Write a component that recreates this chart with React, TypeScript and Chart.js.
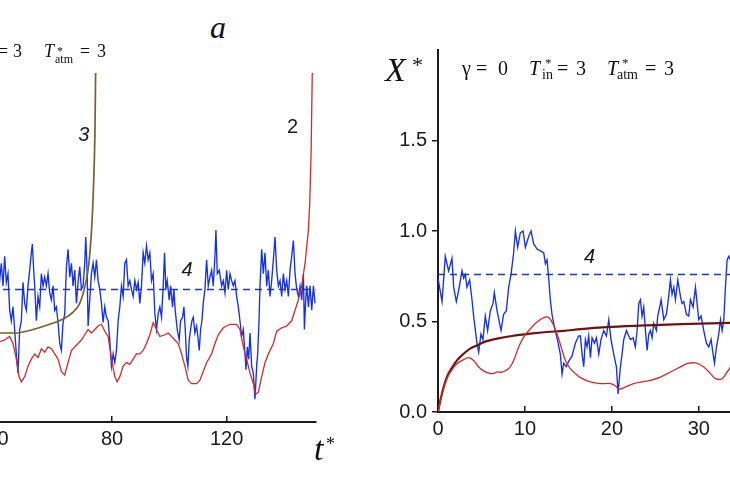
import React, { useEffect, useRef } from "react";
import { Chart, registerables } from "chart.js";

Chart.register(...registerables);

// ---------- DATA (t*, X*) ----------
// Left panel (a): curve 4 (stochastic), curve 2 (red), curve 3 (olive), dashed level
const leftBlue: number[][] = [
  [40.2, 0.70], [40.73, 0.81], [41.31, 0.91], [41.9, 0.78], [42.48, 0.95], [43.06, 0.80], [43.64, 0.85],
  [44.23, 0.64], [44.81, 0.58], [45.39, 0.66], [45.97, 0.53], [46.56, 0.39], [47.14, 0.28], [47.72, 0.53],
  [48.31, 0.58], [48.89, 0.80], [49.47, 0.68], [50.05, 0.64], [50.64, 0.78], [51.22, 0.87], [51.8, 0.97],
  [52.15, 1.02], [52.62, 0.87], [52.97, 0.78], [53.55, 0.58], [54.13, 0.72], [54.72, 0.66], [55.3, 0.85],
  [55.88, 0.78], [56.46, 0.83], [57.05, 0.78], [57.63, 0.85], [58.21, 0.74], [58.8, 0.70], [59.38, 0.78],
  [59.96, 0.64], [60.54, 0.66], [61.13, 0.57], [61.71, 0.45], [62.29, 0.41], [62.87, 0.57], [63.46, 0.62],
  [64.04, 0.89], [64.62, 0.99], [65.21, 0.83], [65.79, 0.91], [66.37, 0.78], [66.95, 0.87], [67.54, 0.68],
  [68.12, 0.80], [68.7, 0.89], [69.28, 0.76], [69.87, 0.78], [70.45, 0.91], [70.8, 1.06], [71.27, 0.87],
  [71.62, 0.55], [72.2, 0.70], [72.78, 0.85], [73.36, 0.91], [73.95, 0.83], [74.53, 0.93], [75.11, 0.81],
  [75.7, 0.76], [76.28, 0.68], [76.86, 0.57], [77.44, 0.66], [78.03, 0.60], [78.61, 0.58], [79.19, 0.47],
  [79.77, 0.32], [80.36, 0.39], [80.94, 0.34], [81.52, 0.41], [82.11, 0.58], [82.69, 0.66], [83.27, 0.78],
  [83.85, 0.72], [84.44, 0.91], [85.02, 0.93], [85.6, 0.78], [86.18, 0.81], [86.77, 0.76], [87.35, 0.72],
  [87.93, 0.81], [88.52, 0.76], [89.1, 0.80], [89.68, 0.68], [90.26, 0.78], [90.85, 0.97], [91.43, 0.91],
  [92.01, 1.01], [92.59, 0.93], [93.18, 0.97], [93.76, 0.81], [94.34, 0.85], [94.93, 0.62], [95.51, 0.53],
  [96.09, 0.62], [96.68, 0.66], [97.26, 0.60], [97.85, 0.78], [98.31, 0.97], [98.78, 0.76], [99.24, 0.81],
  [99.94, 0.70], [100.41, 0.78], [101.11, 0.66], [101.58, 0.76], [102.04, 0.64], [102.74, 0.53], [103.44, 0.47],
  [103.91, 0.58], [104.61, 0.60], [105.07, 0.66], [105.54, 0.53], [106.0, 0.37], [106.47, 0.32], [106.94, 0.47],
  [107.4, 0.53], [107.87, 0.58], [108.34, 0.60], [108.92, 0.51], [109.5, 0.55], [110.08, 0.47], [110.43, 0.41],
  [110.9, 0.53], [111.37, 0.58], [111.83, 0.68], [112.41, 0.76], [113.0, 0.93], [113.58, 0.78], [114.16, 0.83],
  [114.75, 0.87], [115.33, 0.78], [115.91, 0.95], [116.26, 1.10], [116.73, 0.85], [117.43, 0.87], [118.24, 0.78],
  [118.82, 0.81], [119.41, 0.74], [119.99, 0.87], [120.57, 0.76], [121.16, 0.85], [121.74, 0.81], [122.32, 0.78],
  [122.9, 0.81], [123.49, 0.72], [124.07, 0.66], [124.65, 0.58], [125.23, 0.49], [125.82, 0.53], [126.4, 0.39],
  [126.75, 0.30], [127.22, 0.43], [127.68, 0.36], [128.15, 0.51], [128.73, 0.32], [129.31, 0.28], [129.9, 0.13],
  [130.48, 0.32], [130.83, 0.39], [131.3, 0.58], [131.65, 0.78], [132.23, 0.99], [132.81, 0.85], [133.39, 0.97],
  [133.98, 0.78], [134.56, 0.87], [135.14, 0.72], [135.72, 0.81], [136.31, 0.93], [136.89, 1.06], [137.47, 0.87],
  [138.06, 0.78], [138.64, 0.81], [139.22, 0.72], [139.8, 0.85], [140.39, 0.76], [140.97, 0.81], [141.55, 0.72],
  [142.13, 0.87], [142.72, 0.95], [143.3, 1.04], [143.88, 0.85], [144.47, 0.76], [145.05, 0.72], [145.63, 0.78],
  [146.21, 0.70], [146.8, 0.85], [147.15, 0.53], [147.61, 0.70], [147.96, 0.78], [148.55, 0.66], [149.13, 0.78],
  [149.71, 0.64], [150.29, 0.78], [150.87, 0.68],
];

const leftRed: number[][] = [
  [39.5, 0.45], [40.73, 0.46], [42.48, 0.47], [44.23, 0.49], [45.39, 0.45], [46.56, 0.36], [47.49, 0.26],
  [48.31, 0.23], [49.47, 0.26], [50.64, 0.32], [51.8, 0.36], [52.97, 0.39], [54.13, 0.37], [55.3, 0.42],
  [56.46, 0.40], [57.63, 0.43], [58.8, 0.42], [59.96, 0.39], [61.13, 0.36], [62.29, 0.29], [63.46, 0.27],
  [64.62, 0.34], [65.79, 0.41], [66.95, 0.43], [68.12, 0.45], [69.28, 0.47], [70.45, 0.50], [71.62, 0.53],
  [72.78, 0.51], [73.95, 0.53], [75.11, 0.55], [76.28, 0.56], [77.44, 0.52], [78.61, 0.49], [79.77, 0.36],
  [80.94, 0.26], [81.76, 0.23], [82.69, 0.26], [83.85, 0.32], [85.02, 0.34], [86.18, 0.33], [87.35, 0.36],
  [88.52, 0.39], [89.68, 0.39], [90.85, 0.41], [92.01, 0.45], [93.18, 0.50], [94.34, 0.57], [95.51, 0.53],
  [96.67, 0.49], [98.43, 0.50], [99.59, 0.51], [101.34, 0.48], [103.09, 0.45], [104.26, 0.39], [105.42, 0.32],
  [106.59, 0.24], [107.75, 0.22], [109.5, 0.22], [110.67, 0.24], [111.83, 0.29], [113.0, 0.34], [114.75, 0.39],
  [115.91, 0.45], [117.08, 0.50], [118.82, 0.54], [121.16, 0.56], [123.49, 0.56], [124.65, 0.53], [125.82, 0.43],
  [126.98, 0.36], [128.15, 0.28], [129.31, 0.22], [130.13, 0.16], [131.06, 0.17], [132.23, 0.26], [133.39, 0.34],
  [134.56, 0.39], [136.31, 0.45], [137.47, 0.52], [139.22, 0.54], [140.97, 0.55], [142.72, 0.58], [143.88, 0.64],
  [145.05, 0.70], [146.21, 0.78], [147.38, 0.91], [148.54, 1.10], [149.0, 1.25], [149.5, 1.55], [149.9, 2.0],
  [150.1, 2.2],
];

const leftOlive: number[][] = [
  [38, 0.5], [40.73, 0.51], [46.6, 0.51], [52.4, 0.53], [58.2, 0.56], [62.9, 0.59], [66.4, 0.63], [68.7, 0.68],
  [70.4, 0.77], [71.6, 0.87], [72.4, 1.0], [73.0, 1.15], [73.5, 1.35], [74.0, 1.65], [74.25, 2.0], [74.4, 2.2],
];

const leftLevelT = [0, 151];
const leftLevelX = [0.76, 0.76];

// Right panel: curve 4 (stochastic), red, dark brown, dashed level
const rightBlue: number[][] = [
  [0.0, 0.74], [0.46, 0.61], [0.84, 0.86], [1.22, 0.78], [1.61, 0.85], [1.8, 0.69], [2.11, 0.61], [2.37, 0.67],
  [2.76, 0.78], [2.95, 0.74], [3.14, 0.76], [3.33, 0.69], [3.64, 0.73], [3.91, 0.62], [4.1, 0.53], [4.48, 0.38],
  [4.68, 0.33], [4.94, 0.43], [5.17, 0.40], [5.44, 0.53], [5.71, 0.45], [6.02, 0.56], [6.33, 0.60], [6.48, 0.66],
  [6.79, 0.56], [7.25, 0.45], [7.55, 0.54], [7.86, 0.56], [8.13, 0.69], [8.4, 0.76], [8.7, 0.88], [8.9, 1.0],
  [9.16, 0.91], [9.47, 0.99], [9.78, 1.0], [10.05, 0.91], [10.43, 0.97], [10.7, 1.0], [11.0, 0.93], [11.39, 0.90],
  [11.77, 0.89], [12.16, 0.88], [12.35, 0.82], [12.54, 0.84], [12.73, 0.74], [12.92, 0.62], [13.11, 0.54],
  [13.38, 0.47], [13.69, 0.41], [14.07, 0.32], [14.27, 0.21], [14.46, 0.27], [14.76, 0.25], [15.03, 0.28],
  [15.42, 0.31], [15.8, 0.38], [16.18, 0.42], [16.38, 0.42], [16.57, 0.32], [16.76, 0.25], [16.95, 0.40],
  [17.14, 0.36], [17.33, 0.42], [17.53, 0.30], [17.72, 0.41], [17.99, 0.38], [18.22, 0.41], [18.49, 0.32],
  [18.75, 0.40], [19.06, 0.45], [19.37, 0.42], [19.64, 0.51], [19.9, 0.40], [20.21, 0.32], [20.52, 0.25],
  [20.71, 0.10], [20.98, 0.25], [21.17, 0.32], [21.36, 0.40], [21.67, 0.45], [21.94, 0.42], [22.13, 0.40],
  [22.44, 0.41], [22.7, 0.36], [22.9, 0.45], [23.09, 0.60], [23.28, 0.62], [23.47, 0.53], [23.66, 0.58],
  [23.89, 0.43], [24.05, 0.34], [24.24, 0.43], [24.43, 0.45], [24.62, 0.41], [24.81, 0.49], [25.12, 0.45],
  [25.27, 0.53], [25.5, 0.58], [25.66, 0.62], [25.97, 0.51], [26.27, 0.54], [26.54, 0.64], [26.73, 0.73],
  [26.92, 0.65], [27.12, 0.69], [27.31, 0.62], [27.58, 0.73], [27.88, 0.64], [28.07, 0.60], [28.27, 0.61],
  [28.57, 0.54], [28.84, 0.53], [29.03, 0.62], [29.34, 0.58], [29.61, 0.69], [29.8, 0.60], [29.99, 0.51],
  [30.26, 0.53], [30.57, 0.45], [30.87, 0.38], [31.14, 0.36], [31.41, 0.40], [31.64, 0.32], [31.8, 0.27],
  [32.03, 0.36], [32.29, 0.43], [32.49, 0.51], [32.68, 0.45], [32.87, 0.51], [33.06, 0.69], [33.25, 0.84],
  [33.44, 0.86], [33.64, 0.84], [34.2, 0.82],
];

const rightRed: number[][] = [
  [0, 0], [0.3, 0.07], [0.65, 0.13], [1.0, 0.18], [1.42, 0.22], [2.18, 0.267], [2.95, 0.289], [3.53, 0.30],
  [4.1, 0.285], [4.68, 0.249], [5.25, 0.227], [6.02, 0.212], [6.5, 0.215], [6.79, 0.222], [7.36, 0.22],
  [8.13, 0.24], [8.7, 0.285], [9.28, 0.359], [9.85, 0.414], [10.62, 0.46], [11.39, 0.497], [12.16, 0.521],
  [12.62, 0.525], [13.0, 0.506], [13.38, 0.47], [13.88, 0.405], [14.27, 0.341], [14.65, 0.285], [15.22, 0.24],
  [15.8, 0.212], [16.38, 0.19], [17.53, 0.166], [18.68, 0.157], [19.83, 0.157], [20.4, 0.145], [20.79, 0.125],
  [21.55, 0.138], [22.51, 0.157], [23.47, 0.166], [24.43, 0.175], [25.58, 0.193], [26.73, 0.221], [27.88, 0.249],
  [28.65, 0.267], [29.61, 0.271], [30.57, 0.249], [31.34, 0.212], [31.91, 0.184], [32.68, 0.184], [33.25, 0.221],
  [33.64, 0.249], [34.2, 0.29],
];

const rightBrown: number[][] = [
  [0, 0], [0.3, 0.07], [0.65, 0.138], [1.0, 0.19], [1.42, 0.23], [2.18, 0.285], [2.95, 0.322], [3.7, 0.35],
  [4.48, 0.368], [5.5, 0.39], [6.79, 0.405], [8.5, 0.42], [10.62, 0.433], [12.5, 0.442], [14.46, 0.448],
  [16.4, 0.458], [20, 0.47], [24, 0.479], [28, 0.486], [33.6, 0.492], [36, 0.495],
];

const rightLevelT = [0, 36];
const rightLevelX = [0.76, 0.76];

const leftTicksX = [0, 40, 80, 120];
const rightTicksX = [0, 10, 20, 30];
const rightTicksY = [0, 0.5, 1.0, 1.5];

// ---------- STYLE ----------
const BLUE = "#1530e6";
const RED = "#d12a2a";
const OLIVE = "#75622e";
const MAROON = "#6a1515";
const NAVY = "#2436ae";
const INK = "#1a1a1a";
const SANS = "'Liberation Sans', Arial, sans-serif";
const SERIF = "'Liberation Serif', 'Times New Roman', serif";

const pts = (a: number[][]) => a.map(([x, y]) => ({ x, y }));
const zip = (t: number[], v: number[]) => t.map((x, i) => ({ x, y: v[i] }));

function labelPlugin(labels: { text: string; t: number; v: number; italic: boolean }[]) {
  return {
    id: "curveLabels",
    afterDatasetsDraw(chart: any) {
      const { ctx, scales } = chart;
      ctx.save();
      ctx.fillStyle = INK;
      ctx.textAlign = "center";
      ctx.textBaseline = "middle";
      for (const l of labels) {
        ctx.font = `${l.italic ? "italic " : ""}20px ${SANS}`;
        ctx.fillText(l.text, scales.x.getPixelForValue(l.t), scales.y.getPixelForValue(l.v));
      }
      ctx.restore();
    },
  };
}

const tickFont = { family: SANS, size: 20 };

function makeLeft(canvas: HTMLCanvasElement) {
  return new Chart(canvas, {
    type: "line",
    data: {
      datasets: [
        { data: pts(leftRed), borderColor: RED, borderWidth: 1.3, pointRadius: 0, tension: 0 },
        { data: pts(leftOlive), borderColor: OLIVE, borderWidth: 1.7, pointRadius: 0, cubicInterpolationMode: "monotone" },
        { data: zip(leftLevelT, leftLevelX), borderColor: NAVY, borderWidth: 1.5, borderDash: [7, 5], pointRadius: 0 },
        { data: pts(leftBlue), borderColor: BLUE, borderWidth: 1.35, pointRadius: 0, tension: 0 },
      ],
    },
    options: {
      animation: false,
      responsive: false,
      maintainAspectRatio: false,
      devicePixelRatio: 1,
      layout: { padding: { left: 0, right: 19, top: 13, bottom: 0 } },
      plugins: { legend: { display: false }, tooltip: { enabled: false } },
      scales: {
        x: {
          type: "linear",
          min: 0,
          max: 151.2,
          afterBuildTicks: (s: any) => { s.ticks = leftTicksX.map((value) => ({ value })); },
          ticks: { font: tickFont, color: INK, padding: 11, maxRotation: 0, autoSkip: false },
          grid: { drawOnChartArea: false, drawTicks: true, tickLength: -6, color: INK, lineWidth: 1.5 },
          border: { color: INK, width: 2 },
          afterFit: (s: any) => { s.height = 40; s.paddingLeft = 0; s.paddingRight = 0; },
        },
        y: { type: "linear", display: false, min: 0, max: 2 },
      },
    } as any,
    plugins: [
      labelPlugin([
        { text: "3", t: 70.1, v: 1.64, italic: true },
        { text: "2", t: 143.0, v: 1.69, italic: false },
        { text: "4", t: 106.2, v: 0.868, italic: true },
      ]),
    ],
  });
}

function makeRight(canvas: HTMLCanvasElement) {
  return new Chart(canvas, {
    type: "line",
    data: {
      datasets: [
        { data: pts(rightRed), borderColor: RED, borderWidth: 1.3, pointRadius: 0, tension: 0.3 },
        { data: pts(rightBrown), borderColor: MAROON, borderWidth: 2.2, pointRadius: 0, cubicInterpolationMode: "monotone" },
        { data: zip(rightLevelT, rightLevelX), borderColor: NAVY, borderWidth: 1.5, borderDash: [7, 5], pointRadius: 0 },
        { data: pts(rightBlue), borderColor: BLUE, borderWidth: 1.35, pointRadius: 0, tension: 0 },
      ],
    },
    options: {
      animation: false,
      responsive: false,
      maintainAspectRatio: false,
      devicePixelRatio: 1,
      layout: { padding: { left: 0, right: 10, top: 10, bottom: 0 } },
      plugins: { legend: { display: false }, tooltip: { enabled: false } },
      scales: {
        x: {
          type: "linear",
          min: 0,
          max: 36,
          afterBuildTicks: (s: any) => { s.ticks = rightTicksX.map((value) => ({ value })); },
          ticks: { font: tickFont, color: INK, padding: 11, maxRotation: 0, autoSkip: false },
          grid: { drawOnChartArea: false, drawTicks: true, tickLength: -6, color: INK, lineWidth: 1.5 },
          border: { color: INK, width: 2 },
          afterFit: (s: any) => { s.height = 40; s.paddingLeft = 0; s.paddingRight = 0; },
        },
        y: {
          type: "linear",
          min: 0,
          max: 2,
          afterBuildTicks: (s: any) => { s.ticks = rightTicksY.map((value) => ({ value })); },
          ticks: { font: tickFont, color: INK, padding: 5, callback: (v: any) => Number(v).toFixed(1) },
          grid: { drawOnChartArea: false, drawTicks: true, tickLength: 6, color: INK, lineWidth: 1.5 },
          border: { color: INK, width: 2 },
          afterFit: (s: any) => { s.width = 60; s.paddingTop = 0; s.paddingBottom = 0; },
        },
      },
    } as any,
    plugins: [labelPlugin([{ text: "4", t: 17.43, v: 0.854, italic: true }])],
  });
}

function Txt(props: { x: number; base: number; size: number; italic?: boolean; children: React.ReactNode }) {
  const { x, base, size, italic, children } = props;
  return (
    <span
      style={{
        position: "absolute",
        left: x,
        top: base - 0.84 * size,
        fontSize: size,
        lineHeight: `${size}px`,
        fontFamily: SERIF,
        fontStyle: italic ? "italic" : "normal",
        whiteSpace: "pre",
        color: "#111",
      }}
    >
      {children}
    </span>
  );
}

export default function App() {
  const leftRef = useRef<HTMLCanvasElement>(null);
  const rightRef = useRef<HTMLCanvasElement>(null);

  useEffect(() => {
    const a = makeLeft(leftRef.current!);
    const b = makeRight(rightRef.current!);
    return () => {
      a.destroy();
      b.destroy();
    };
  }, []);

  return (
    <div
      style={{
        position: "fixed",
        left: 0,
        top: 0,
        width: 730,
        height: 486,
        overflow: "hidden",
        background: "#fff",
      }}
    >
      <canvas
        ref={leftRef}
        width={452}
        height={402}
        style={{ position: "absolute", left: -117, top: 60, width: 452, height: 402 }}
      />
      <canvas
        ref={rightRef}
        width={383}
        height={412}
        style={{ position: "absolute", left: 378, top: 40, width: 383, height: 412 }}
      />

      {/* panel letter */}
      <Txt x={210} base={38} size={32} italic>a</Txt>

      {/* left header (partly cut) */}
      <Txt x={-2} base={57.5} size={18}>=</Txt>
      <Txt x={13} base={57.5} size={18}>3</Txt>
      <Txt x={44} base={57.5} size={18} italic>T</Txt>
      <Txt x={57} base={55} size={12}>*</Txt>
      <Txt x={55} base={63} size={12}>atm</Txt>
      <Txt x={80} base={57.5} size={18}>=</Txt>
      <Txt x={97} base={57.5} size={18}>3</Txt>

      {/* left axis title */}
      <Txt x={314} base={461} size={34} italic>t</Txt>
      <Txt x={326} base={450} size={18}>*</Txt>

      {/* right axis title */}
      <Txt x={385} base={82} size={34} italic>X</Txt>
      <Txt x={412} base={72} size={22}>*</Txt>

      {/* right header */}
      <Txt x={462} base={75} size={20}>γ</Txt>
      <Txt x={476} base={75} size={20}>=</Txt>
      <Txt x={498} base={75} size={20}>0</Txt>
      <Txt x={529} base={75} size={20} italic>T</Txt>
      <Txt x={545} base={67} size={13}>*</Txt>
      <Txt x={542} base={80} size={14}>in</Txt>
      <Txt x={557} base={75} size={20}>=</Txt>
      <Txt x={576} base={75} size={20}>3</Txt>
      <Txt x={607} base={75} size={20} italic>T</Txt>
      <Txt x={622} base={67} size={13}>*</Txt>
      <Txt x={617} base={80} size={14}>atm</Txt>
      <Txt x={645} base={75} size={20}>=</Txt>
      <Txt x={664} base={75} size={20}>3</Txt>
    </div>
  );
}
